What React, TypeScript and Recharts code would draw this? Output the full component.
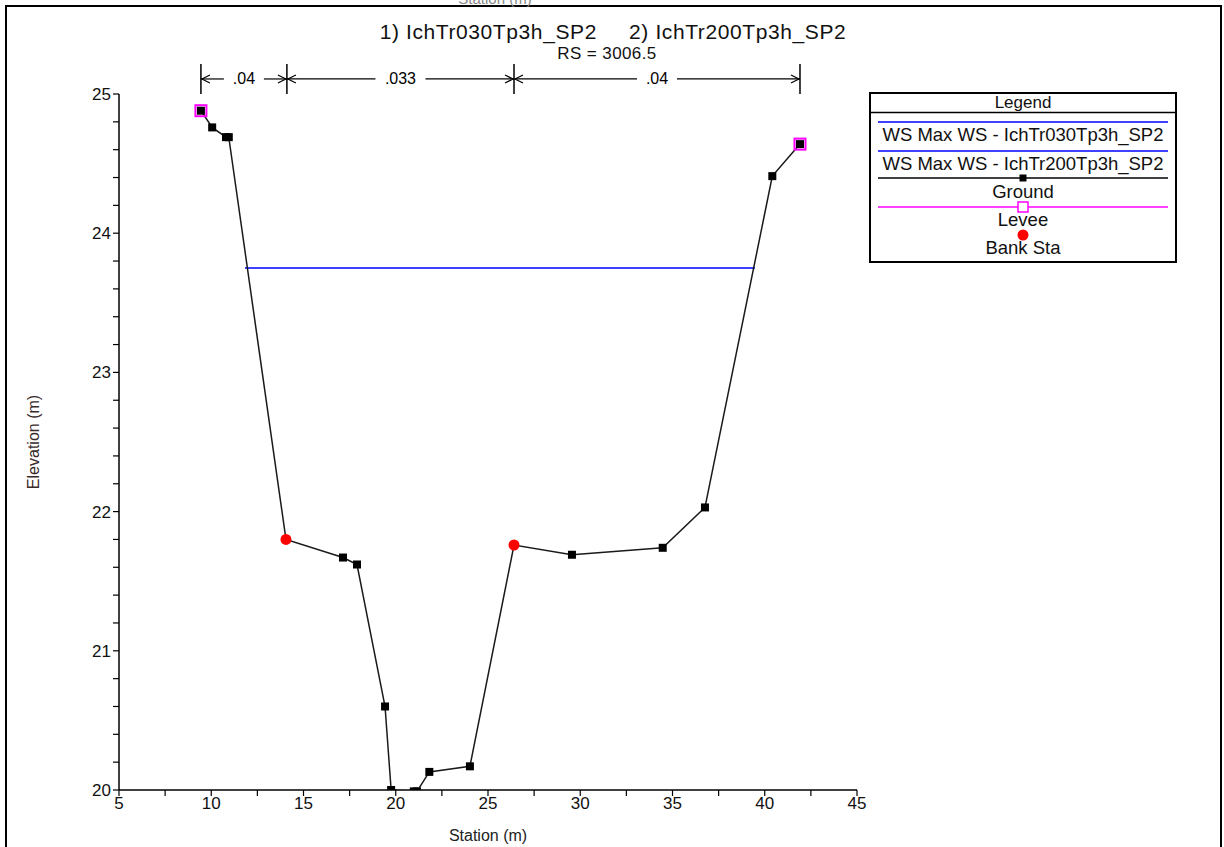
import { ComposedChart, Line, ReferenceLine, Scatter, XAxis, YAxis } from "recharts"

// ground profile (station m, elevation m)
const GROUND_STA = [9.44, 10.05, 10.8, 10.95, 14.05, 17.14, 17.9, 19.42, 19.75, 20.98, 21.15, 21.82, 24.02, 26.41, 29.55, 34.47, 36.76, 40.41, 41.91]
const GROUND_ELEV = [24.88, 24.76, 24.69, 24.69, 21.8, 21.67, 21.62, 20.6, 20.0, 19.99, 19.99, 20.13, 20.17, 21.76, 21.69, 21.74, 22.03, 24.41, 24.64]

const LEVEE_STA = [9.44, 41.91]
const LEVEE_ELEV = [24.88, 24.64]

const BANK_STA = [14.05, 26.41]
const BANK_ELEV = [21.8, 21.76]

const WS_STA = [11.83, 39.47]
const WS_030 = [23.75, 23.75]
const WS_200 = [23.75, 23.75]

// manning's n breaks along the top
const N_BREAKS = [9.44, 14.1, 26.41, 41.91]
const N_VALUES = [".04", ".033", ".04"]

const X_TICKS = [5, 7.5, 10, 12.5, 15, 17.5, 20, 22.5, 25, 27.5, 30, 32.5, 35, 37.5, 40, 42.5, 45]
const Y_TICKS = [20, 20.2, 20.4, 20.6, 20.8, 21, 21.2, 21.4, 21.6, 21.8, 22, 22.2, 22.4, 22.6, 22.8, 23, 23.2, 23.4, 23.6, 23.8, 24, 24.2, 24.4, 24.6, 24.8, 25]

const FONT = '"Liberation Sans", Arial, sans-serif'

const zip = (sta: number[], elev: number[]) => sta.map((s, i) => ({ sta: s, elev: elev[i] }))

const ground = zip(GROUND_STA, GROUND_ELEV)
const levee = zip(LEVEE_STA, LEVEE_ELEV)
const bank = zip(BANK_STA, BANK_ELEV)
const ws030 = zip(WS_STA, WS_030)
const ws200 = zip(WS_STA, WS_200)

const N_TOP = 25.215
const N_ARROW = 25.108

function GroundDot(p: any) {
  const k = `g${p.index}`
  if (p.cx == null || p.cy == null) return <g key={k} />
  if (BANK_STA.includes(GROUND_STA[p.index])) return <g key={k} />
  return <rect key={k} x={p.cx - 4} y={p.cy - 4} width={8} height={8} fill="#000" />
}

function LeveeMark(p: any) {
  return <rect x={p.cx - 5.5} y={p.cy - 5.5} width={11} height={11} fill="none" stroke="#ff00ff" strokeWidth={2} />
}

function BankMark(p: any) {
  return <circle cx={p.cx} cy={p.cy} r={5.5} fill="#ff0000" />
}

function arrowShape(label: string) {
  return (p: any) => {
    const { x1, x2, y1 } = p
    const mid = (x1 + x2) / 2
    const gap = label.length * 5 + 5
    const y = y1
    return (
      <g>
        <line x1={x1} y1={y} x2={mid - gap} y2={y} stroke="#000" strokeWidth={1.2} />
        <line x1={mid + gap} y1={y} x2={x2} y2={y} stroke="#000" strokeWidth={1.2} />
        <path d={`M${x1 + 9},${y - 4} L${x1 + 1},${y} L${x1 + 9},${y + 4}`} fill="none" stroke="#000" strokeWidth={1.2} />
        <path d={`M${x2 - 9},${y - 4} L${x2 - 1},${y} L${x2 - 9},${y + 4}`} fill="none" stroke="#000" strokeWidth={1.2} />
        <text x={mid} y={y} textAnchor="middle" dominantBaseline="central" fontFamily={FONT} fontSize={16} fill="#000">{label}</text>
      </g>
    )
  }
}

function LegendBox() {
  const lx1 = 9
  const lx2 = 299
  const cx = 154
  const txt = { fontFamily: FONT, fontSize: 18.5, fill: "#111", textAnchor: "middle" as const, dominantBaseline: "central" as const }
  return (
    <svg width={308} height={171} style={{ display: "block" }}>
      <rect x={1} y={1} width={306} height={169} fill="#fff" stroke="#000" strokeWidth={2} />
      <text x={cx} y={10} {...txt} fontSize={17}>Legend</text>
      <line x1={1} y1={20.5} x2={307} y2={20.5} stroke="#000" strokeWidth={1.5} />
      <line x1={lx1} y1={30} x2={lx2} y2={30} stroke="#0000ff" strokeWidth={1.3} />
      <text x={cx} y={42} {...txt}>WS Max WS - IchTr030Tp3h_SP2</text>
      <line x1={lx1} y1={59} x2={lx2} y2={59} stroke="#0000ff" strokeWidth={1.3} />
      <text x={cx} y={71} {...txt}>WS Max WS - IchTr200Tp3h_SP2</text>
      <line x1={lx1} y1={86} x2={lx2} y2={86} stroke="#000" strokeWidth={1.3} />
      <rect x={cx - 3.5} y={82.5} width={7} height={7} fill="#000" />
      <text x={cx} y={99} {...txt}>Ground</text>
      <line x1={lx1} y1={115} x2={lx2} y2={115} stroke="#ff00ff" strokeWidth={1.3} />
      <rect x={cx - 5} y={110} width={10} height={10} fill="#fff" stroke="#ff00ff" strokeWidth={1.5} />
      <text x={cx} y={127} {...txt}>Levee</text>
      <circle cx={cx} cy={143} r={5.5} fill="#ff0000" />
      <text x={cx} y={155} {...txt}>Bank Sta</text>
    </svg>
  )
}

export default function App() {
  return (
    <div style={{ position: "absolute", left: 0, top: 0, width: 1224, height: 847, overflow: "hidden", background: "#fff", fontFamily: FONT }}>
      <div style={{ position: "absolute", left: 5, top: 5, width: 1213, height: 900, borderLeft: "2px solid #000", borderTop: "2px solid #000", borderRight: "2px solid #000" }} />
      <div style={{ position: "absolute", left: 395, top: -10, width: 200, textAlign: "center", fontSize: 15, color: "#888" }}>Station (m)</div>
      <div style={{ position: "absolute", left: 0, top: 20, width: 1226, textAlign: "center", fontSize: 21, letterSpacing: 0.6, color: "#111", whiteSpace: "pre" }}>
        1) IchTr030Tp3h_SP2     2) IchTr200Tp3h_SP2
      </div>
      <div style={{ position: "absolute", left: 0, top: 44, width: 1214, textAlign: "center", fontSize: 17, letterSpacing: 0.4, color: "#111" }}>
        RS = 3006.5
      </div>

      <ComposedChart width={1224} height={847} margin={{ top: 94, right: 367, bottom: 0, left: 19 }} style={{ position: "absolute", left: 0, top: 0 }}>
        <XAxis
          dataKey="sta"
          type="number"
          domain={[5, 45]}
          ticks={X_TICKS}
          interval={0}
          tickFormatter={v => (v % 5 === 0 ? String(v) : "")}
          tick={{ fontSize: 17, fill: "#111", fontFamily: FONT }}
          tickSize={6}
          tickMargin={1}
          height={57}
          axisLine={{ stroke: "#000", strokeWidth: 1.5 }}
          tickLine={{ stroke: "#000", strokeWidth: 1.2 }}
          label={{ value: "Station (m)", position: "insideBottom", offset: 6, fontSize: 16, fill: "#222", fontFamily: FONT }}
        />
        <YAxis
          type="number"
          domain={[20, 25]}
          ticks={Y_TICKS}
          interval={0}
          allowDataOverflow
          tickFormatter={v => (Number.isInteger(v) ? String(v) : "")}
          tick={{ fontSize: 17, fill: "#111", fontFamily: FONT }}
          tickSize={6}
          tickMargin={2}
          width={100}
          axisLine={{ stroke: "#000", strokeWidth: 1.5 }}
          tickLine={{ stroke: "#000", strokeWidth: 1.2 }}
          label={{ value: "Elevation (m)", angle: -90, position: "insideLeft", offset: 14, fontSize: 16, fill: "#3a2a2a", fontFamily: FONT, style: { textAnchor: "middle" } }}
        />

        {N_BREAKS.map(s => (
          <ReferenceLine key={`nb${s}`} segment={[{ x: s, y: 25 }, { x: s, y: N_TOP }]} ifOverflow="visible" stroke="#000" strokeWidth={1.5} />
        ))}
        {N_VALUES.map((v, i) => (
          <ReferenceLine
            key={`nv${i}`}
            segment={[{ x: N_BREAKS[i], y: N_ARROW }, { x: N_BREAKS[i + 1], y: N_ARROW }]}
            ifOverflow="visible"
            shape={arrowShape(v)}
          />
        ))}

        <Line data={ws030} dataKey="elev" stroke="#0000ff" strokeWidth={1.2} dot={false} isAnimationActive={false} />
        <Line data={ws200} dataKey="elev" stroke="#0000ff" strokeWidth={1.2} dot={false} isAnimationActive={false} />
        <Line data={ground} dataKey="elev" stroke="#1a1a1a" strokeWidth={1.5} dot={GroundDot} isAnimationActive={false} />
        <Scatter data={levee} dataKey="elev" shape={LeveeMark} isAnimationActive={false} />
        <Scatter data={bank} dataKey="elev" shape={BankMark} isAnimationActive={false} />
      </ComposedChart>

      <div style={{ position: "absolute", left: 869, top: 92 }}>
        <LegendBox />
      </div>
    </div>
  )
}
